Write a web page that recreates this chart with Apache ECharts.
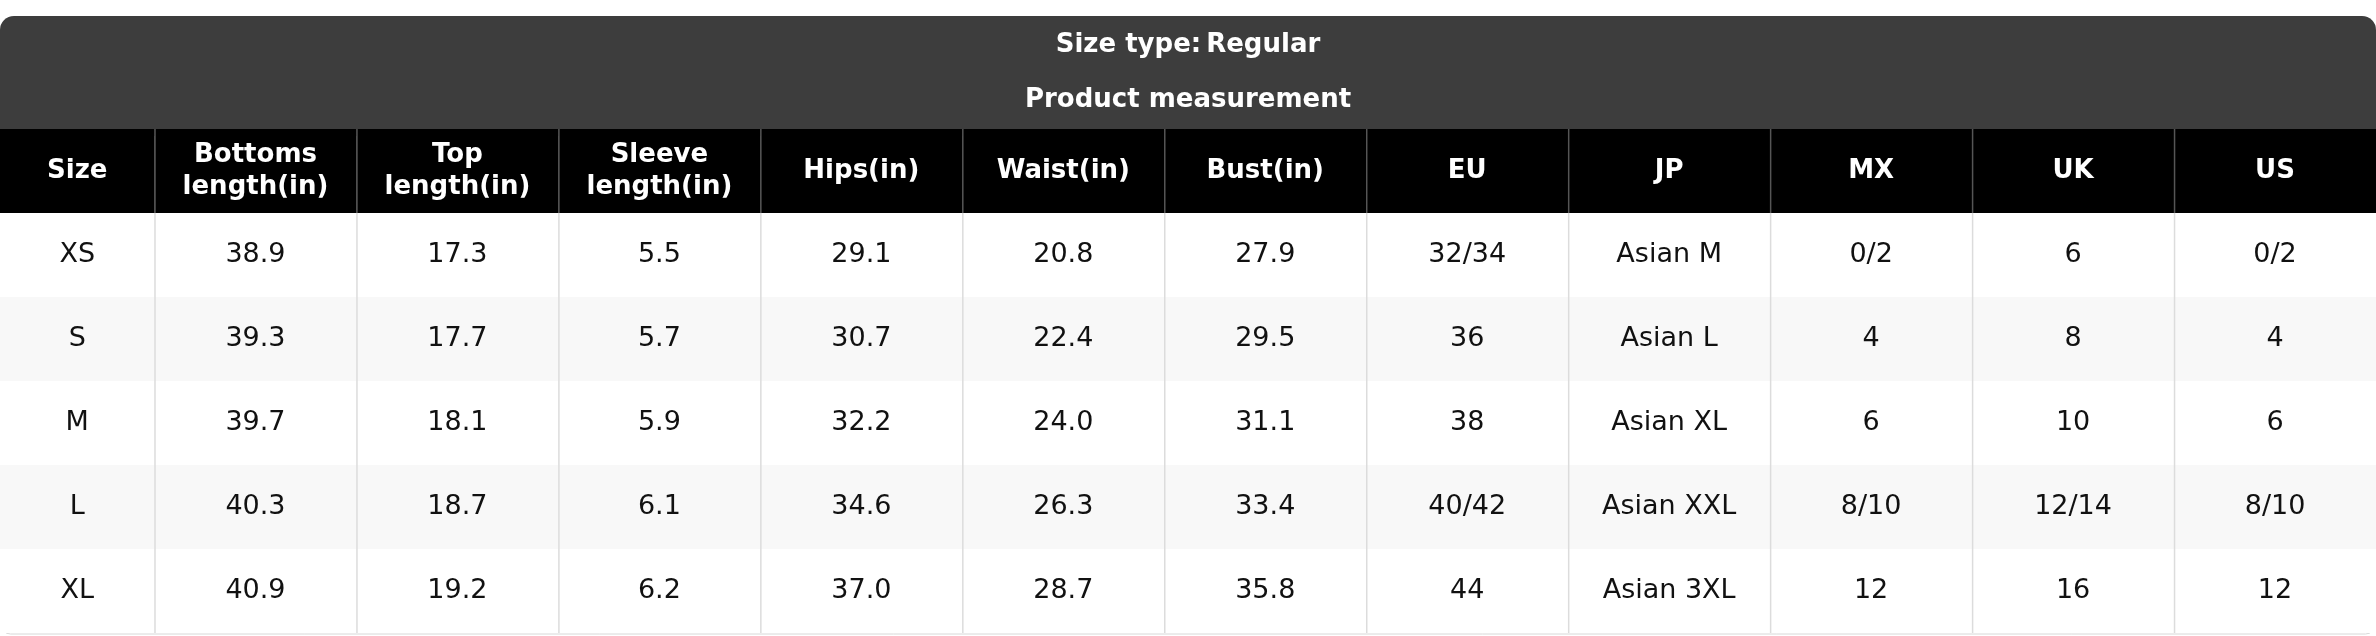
<!DOCTYPE html>
<html><head><meta charset="utf-8">
<script src="https://cdn.jsdelivr.net/npm/echarts@6/dist/echarts.min.js"></script>
<style>html,body{margin:0;padding:0;background:#fff}#c{width:2376px;height:636px}</style>
</head><body><div id="c"></div>
<script>
const headers = ['Size','Bottoms\nlength(in)','Top\nlength(in)','Sleeve\nlength(in)','Hips(in)','Waist(in)','Bust(in)','EU','JP','MX','UK','US'];
const sizes = ['XS','S','M','L','XL'];
const bottoms = ['38.9','39.3','39.7','40.3','40.9'];
const top_ = ['17.3','17.7','18.1','18.7','19.2'];
const sleeve = ['5.5','5.7','5.9','6.1','6.2'];
const hips = ['29.1','30.7','32.2','34.6','37.0'];
const waist = ['20.8','22.4','24.0','26.3','28.7'];
const bust = ['27.9','29.5','31.1','33.4','35.8'];
const eu = ['32/34','36','38','40/42','44'];
const jp = ['Asian M','Asian L','Asian XL','Asian XXL','Asian 3XL'];
const mx = ['0/2','4','6','8/10','12'];
const uk = ['6','8','10','12/14','16'];
const us = ['0/2','4','6','8/10','12'];
const columns = [sizes,bottoms,top_,sleeve,hips,waist,bust,eu,jp,mx,uk,us];
const rowNames = ['H','XS','S','M','L','XL'];

const FIRST = 0.765;
function colStart(c){ return c===0 ? 0 : FIRST + (c-1); }
function colWidth(c){ return c===0 ? FIRST : 1; }

const data = [];
headers.forEach((h,c)=>data.push([c,0,h]));
columns.forEach((col,c)=>col.forEach((v,r)=>data.push([c,r+1,v])));

const chart = echarts.init(document.getElementById('c'));
chart.setOption({
  animation:false,
  graphic:[
    {type:'rect',shape:{x:0,y:16,width:2376,height:120,r:[14,14,0,0]},style:{fill:'#3d3d3d'},z:-1},
    {type:'rect',shape:{x:0.5,y:120,width:2375,height:514,r:[0,0,10,10]},style:{fill:'#fff',stroke:'#d8d8d8',lineWidth:1},z:-2}
  ],
  title:[
    {text:'{b|Size type:} {n|Regular}',left:'center',top:27,textStyle:{rich:{
      b:{fontFamily:'DejaVu Sans',fontWeight:'bold',fontSize:26,color:'#fff'},
      n:{fontFamily:'DejaVu Sans',fontSize:26,color:'#fff'}}}},
    {text:'Product measurement',left:'center',top:82,textStyle:{fontFamily:'DejaVu Sans',fontWeight:'bold',fontSize:26,color:'#fff'}}
  ],
  grid:{left:0,right:0,top:129,bottom:3},
  xAxis:{type:'value',min:0,max:FIRST+11,show:false},
  yAxis:{type:'category',data:rowNames,inverse:true,show:false},
  series:[{
    type:'custom',
    data:data,
    renderItem:function(params,api){
      const c=api.value(0), r=api.value(1), txt=data[params.dataIndex][2];
      const p0=api.coord([colStart(c), r]);
      const p1=api.coord([colStart(c)+colWidth(c), r]);
      const h=api.size([0,1])[1];
      const x=p0[0], y=p0[1]-h/2, w=p1[0]-p0[0];
      const header = r===0;
      const fill = header ? '#000' : (r%2===0 ? '#f8f8f8' : '#fff');
      const children=[{type:'rect',shape:{x:x,y:y,width:w,height:h},style:{fill:fill}}];
      if(c>0) children.push({type:'line',shape:{x1:x+0.5,y1:y,x2:x+0.5,y2:y+h},style:{stroke:header?'#555':'#dcdcdc',lineWidth:1.5}});
      children.push({type:'text',style:{x:x+w/2,y:p0[1],text:txt,align:'center',verticalAlign:'middle',
        fontFamily:'DejaVu Sans',fontSize:header?26:27,fontWeight:header?'bold':'normal',lineHeight:32,
        fill:header?'#fff':'#111'}});
      return {type:'group',children:children};
    }
  }]
});
</script></body></html>
